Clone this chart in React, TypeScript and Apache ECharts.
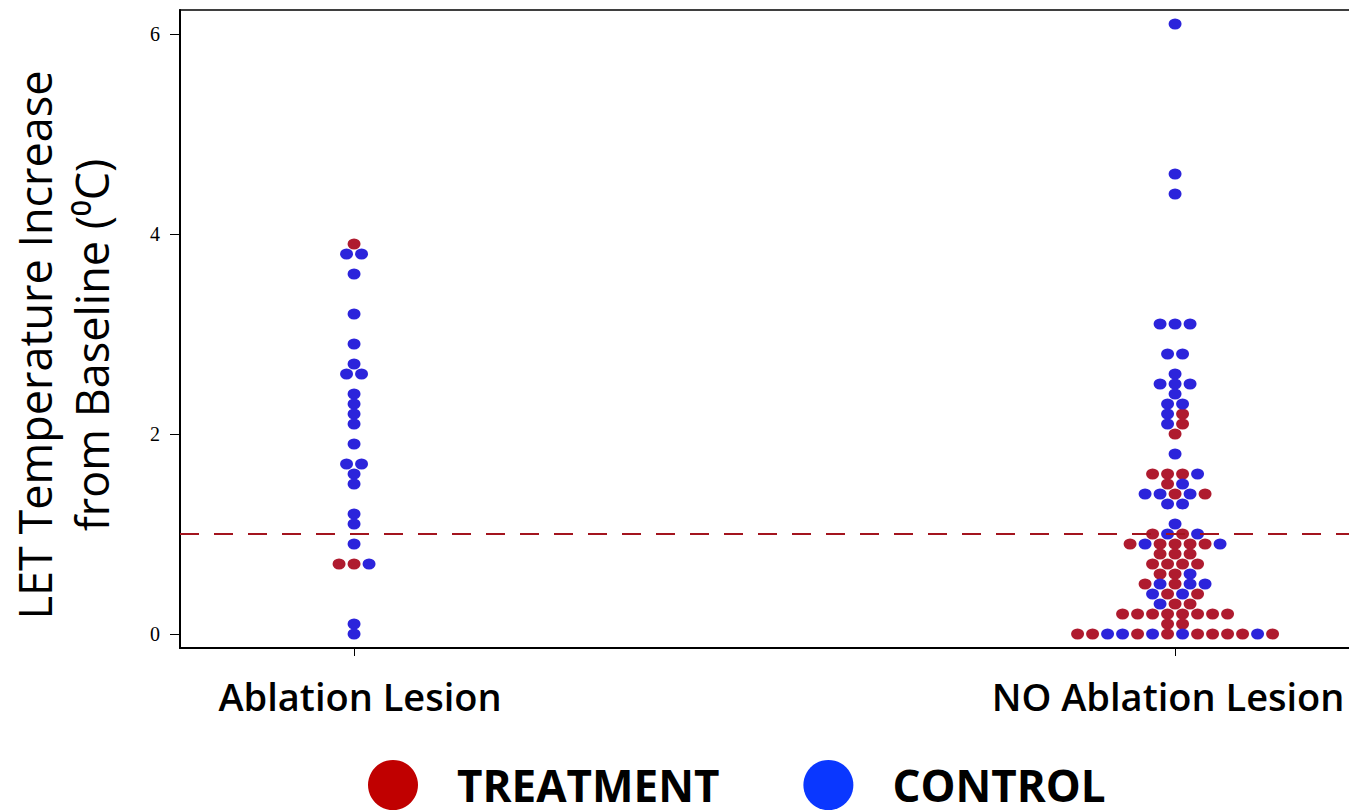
import React, { useEffect, useRef } from "react";
import * as echarts from "echarts";

// Categories on the x axis (positioned at x = 1 and x = 2)
const groups = ["Ablation Lesion", "NO Ablation Lesion"];
const groupPositions = [1, 2];
const yTicks = [0, 2, 4, 6];

// Beeswarm rows: value and the arm of each dot, left to right (T = treatment, C = control)
const ablationValues = [3.9, 3.8, 3.6, 3.2, 2.9, 2.7, 2.6, 2.4, 2.3, 2.2, 2.1, 1.9, 1.7, 1.6, 1.5, 1.2, 1.1, 0.9, 0.7, 0.1, 0.0];
const ablationArms = ["T", "CC", "C", "C", "C", "C", "CC", "C", "C", "C", "C", "C", "CC", "C", "C", "C", "C", "C", "TTC", "C", "C"];

const noAblationValues = [6.1, 4.6, 4.4, 3.1, 2.8, 2.6, 2.5, 2.4, 2.3, 2.2, 2.1, 2.0, 1.8, 1.6, 1.5, 1.4, 1.3, 1.1, 1.0, 0.9, 0.8, 0.7, 0.6, 0.5, 0.4, 0.3, 0.2, 0.1, 0.0];
const noAblationArms = ["C", "C", "C", "CCC", "CC", "C", "CCC", "C", "CC", "CT", "CT", "T", "C", "TTTC", "TC", "CCTCT", "CC", "C", "TCTC", "TCTTTTC", "TTT", "TTTT", "TTC", "TCTCC", "CTCT", "CTT", "TTTTTTTT", "TT", "TTCCTCTCTTTTCT"];

const thresholdValue = 1.0;

const seriesNames = ["TREATMENT", "CONTROL"];

// layout constants
const X_MIN = 0.788;
const X_MAX = 2.2155;
const GRID_LEFT = 180;
const GRID_WIDTH = 1172;
const DOT_GAP_PX = 15;

function buildPoints() {
  const gapUnits = (DOT_GAP_PX * (X_MAX - X_MIN)) / GRID_WIDTH;
  const treat: number[][] = [];
  const ctrl: number[][] = [];
  const sets = [
    { x: groupPositions[0], values: ablationValues, arms: ablationArms },
    { x: groupPositions[1], values: noAblationValues, arms: noAblationArms },
  ];
  sets.forEach((s) => {
    s.values.forEach((v, r) => {
      const row = s.arms[r];
      const n = row.length;
      for (let i = 0; i < n; i++) {
        const x = s.x + (i - (n - 1) / 2) * gapUnits;
        (row[i] === "T" ? treat : ctrl).push([x, v]);
      }
    });
  });
  return { treat, ctrl };
}

const ELLIPSE = "path://M0 5A5 5 0 1 1 10 5A5 5 0 1 1 0 5Z";
const SANS = "'Open Sans', 'Noto Sans', sans-serif";
const X_LABEL_STYLE = {
  fontFamily: SANS,
  fontWeight: 600,
  fontSize: 38,
  color: "#000",
};

export default function App() {
  const ref = useRef<HTMLDivElement>(null);
  useEffect(() => {
    if (!ref.current) return;
    const chart = echarts.init(ref.current, undefined, { renderer: "svg" });
    const { treat, ctrl } = buildPoints();
    chart.setOption({
      animation: false,
      backgroundColor: "#ffffff",
      grid: {
        left: GRID_LEFT,
        top: 10,
        width: GRID_WIDTH,
        bottom: 162,
        show: true,
        borderColor: "#000",
        borderWidth: 1.5,
        outerBoundsMode: "none",
        containLabel: false,
      },
      legend: {
        left: 368,
        top: 760,
        padding: 0,
        itemWidth: 50,
        itemHeight: 50,
        itemGap: 84,
        icon: "circle",
        textStyle: {
          fontFamily: SANS,
          fontWeight: "bold",
          fontSize: 44,
          lineHeight: 44,
          color: "#000",
          padding: [0, 0, 0, 34],
        },
        data: [
          { name: seriesNames[0], itemStyle: { color: "#C00000", opacity: 1 } },
          { name: seriesNames[1], itemStyle: { color: "#0A37FF", opacity: 1 } },
        ],
      },
      xAxis: {
        type: "value",
        min: X_MIN,
        max: X_MAX,
        splitLine: { show: false },
        axisLine: { show: true, onZero: false, lineStyle: { color: "#000", width: 2 } },
        axisTick: { show: true, length: 8, customValues: groupPositions, lineStyle: { color: "#000", width: 1 } },
        axisLabel: {
          customValues: groupPositions,
          formatter: (v: number) => {
            const i = groupPositions.indexOf(Math.round(v));
            if (i < 0) return "";
            return `{g${i}|${groups[i]}}`;
          },
          ...X_LABEL_STYLE,
          margin: 29,
          rich: {
            g0: { ...X_LABEL_STYLE, padding: [0, 0, 0, 12] },
            g1: { ...X_LABEL_STYLE, padding: [0, 14, 0, 0] },
          },
        },
      },
      yAxis: {
        type: "value",
        min: -0.14,
        max: 6.24,
        splitLine: { show: false },
        axisLine: { show: true, lineStyle: { color: "#000", width: 2 } },
        axisTick: { show: true, length: 10, customValues: yTicks, lineStyle: { color: "#000", width: 1 } },
        axisLabel: {
          customValues: yTicks,
          fontFamily: "Liberation Serif",
          fontSize: 20,
          color: "#000",
          margin: 20,
        },
        name: "LET Temperature Increase\nfrom Baseline (\u2070C)",
        nameLocation: "middle",
        nameRotate: 90,
        nameGap: 60,
        nameTextStyle: {
          fontFamily: SANS,
          fontSize: 45,
          lineHeight: 57,
          color: "#000",
          padding: [0, 32, 0, 0],
        },
      },
      series: [
        {
          name: seriesNames[0],
          type: "scatter",
          symbol: ELLIPSE,
          symbolSize: [13, 11],
          itemStyle: { color: "#AF1B2F", opacity: 1 },
          data: treat,
        },
        {
          name: seriesNames[1],
          type: "scatter",
          symbol: ELLIPSE,
          symbolSize: [13, 11],
          itemStyle: { color: "#2C24DB", opacity: 1 },
          data: ctrl,
        },
        {
          name: "threshold",
          type: "line",
          data: [],
          z: 5,
          markLine: {
            silent: true,
            symbol: "none",
            label: { show: false },
            lineStyle: { type: [19, 15], color: "#A3141E", width: 2 },
            data: [{ yAxis: thresholdValue }],
          },
        },
      ],
    });
    return () => chart.dispose();
  }, []);
  return <div ref={ref} style={{ position: "absolute", left: 0, top: 0, width: 1349, height: 810 }} />;
}
